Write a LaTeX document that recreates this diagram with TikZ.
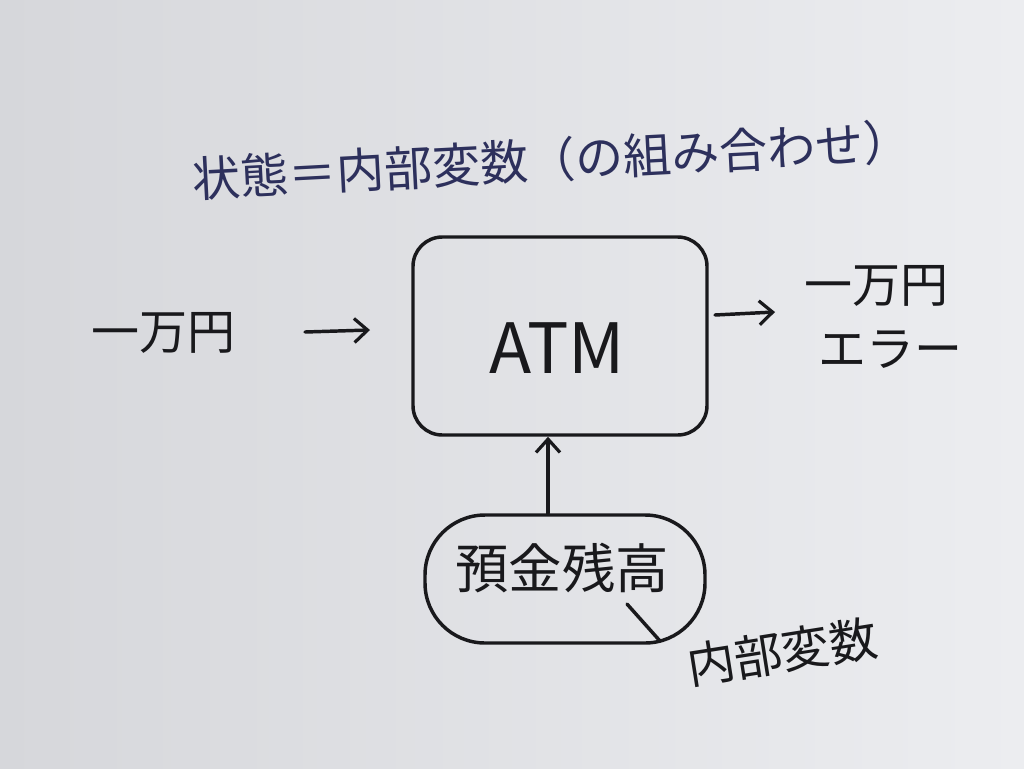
\documentclass[tikz,border=0pt]{standalone}
\usepackage{fontspec}
\setmainfont{Noto Sans CJK JP}
\usetikzlibrary{arrows.meta,shadings}
\definecolor{paperL}{RGB}{214,215,219}
\definecolor{paperR}{RGB}{236,237,240}
\definecolor{ink}{RGB}{25,25,28}
\definecolor{blueink}{RGB}{45,48,92}
\tikzset{
  pen/.style={draw=ink, line width=2.6pt, line cap=round, line join=round},
  arr/.style={pen, -{Straight Barb[length=10pt,width=18pt,line width=2.4pt]}},
  jp/.style={text=ink, inner sep=0pt, font=\fontsize{36}{40}\selectfont},
}
\begin{document}
\begin{tikzpicture}[x=0.75pt,y=-0.75pt]
\useasboundingbox (0,0) rectangle (1024,768);
\shade[left color=paperL, right color=paperR] (0,0) rectangle (1024,768);
% title
\node[jp, text=blueink, rotate=3] (title) at (552,160) {状態＝内部変数（の組み合わせ）};
% ATM box
\node[pen, rounded corners=22pt, minimum width=220.5pt, minimum height=148.5pt, inner sep=0pt] (atm) at (560,336) {};
\node[text=ink, font=\fontsize{52}{56}\selectfont] (atmt) at (557,348) {ATM};
% input
\node[jp] (in) at (163,333) {一万円};
\coordinate (inA) at (305,332);
\coordinate (inB) at (370,330);
\draw[arr] (inA) -- (inB);
% output
\coordinate (outA) at (715,315);
\coordinate (outB) at (775,312);
\draw[arr] (outA) -- (outB);
\node[jp] (out1) at (876,286) {一万円};
\node[jp] (out2) at (890,350) {エラー};
% balance
\node[pen, rounded corners=45pt, minimum width=210pt, minimum height=96pt, inner sep=0pt] (bal) at (565,579) {};
\node[jp, font=\fontsize{40}{44}\selectfont] (balt) at (562,568) {預金残高};
\draw[arr] (bal.north -| atm.south) ++(-12,0) coordinate (upA) -- (upA |- atm.south);
% internal variable label
\coordinate (tA) at (627,604);
\coordinate (tB) at (660,641);
\draw[pen] (tA) -- (tB);
\node[jp, rotate=9] (iv) at (782,652) {内部変数};
\end{tikzpicture}
\end{document}
